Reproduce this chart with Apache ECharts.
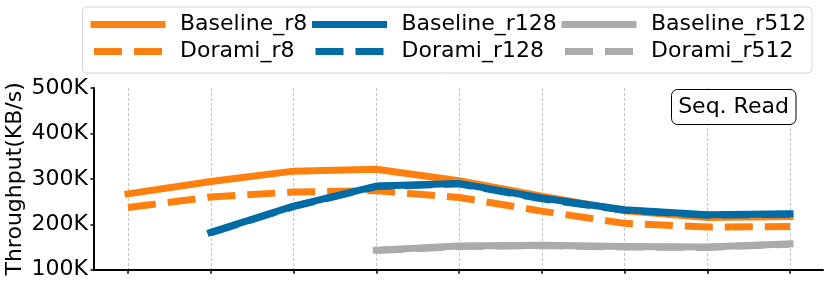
<!DOCTYPE html>
<html>
<head>
<meta charset="utf-8">
<script src="https://cdn.jsdelivr.net/npm/echarts@6/dist/echarts.min.js"></script>
<style>
html,body{margin:0;padding:0;background:#fff;}
#chart{width:830px;height:290px;}
</style>
</head>
<body>
<div id="chart"></div>
<script>
// ---- data (throughput in K KB/s) ----
var categories = ['1', '2', '3', '4', '5', '6', '7', '8', '9'];
var baselineR8 = [267, 294, 317, 321, 296, 262, 230, 215, 217];
var doramiR8 = [237, 260, 271, 274, 259, 229, 202, 194, 195];
var baselineR128 = [null, 182, 240, 284, 290, 258, 232, 221, 223];
var doramiR128 = [null, 181, 239, 283, 289, 256, 231, 220, 222];
var baselineR512 = [null, null, null, 143, 152, 154, 151, 150, 157];
var doramiR512 = [null, null, null, 142, 151, 153, 150, 149, 156];
var yTicks = [100, 200, 300, 400, 500];
var seriesNames = ['Baseline_r8', 'Dorami_r8', 'Baseline_r128', 'Dorami_r128', 'Baseline_r512', 'Dorami_r512'];
var panelTitle = 'Seq. Read';
var yAxisTitle = 'Throughput(KB/s)';

var ORANGE = '#FF800E', BLUE = '#006BA4', GRAY = '#ABABAB';
var FONT = 'DejaVu Sans';
var LW = 7;
var DASH = [28, 12];

function styleOf(color, dashed) {
  return {color: color, width: LW, type: dashed ? DASH : 'solid',
          cap: dashed ? 'butt' : 'square', join: 'round', opacity: 1};
}

function mkSeries(name, data, color, dashed) {
  return {
    name: name, type: 'line', data: data,
    xAxisIndex: 1, yAxisIndex: 1,
    symbol: 'none', showSymbol: false, clip: false, animation: false,
    connectNulls: false,
    lineStyle: styleOf(color, dashed),
    itemStyle: {color: color}
  };
}

function legendItem(name, color, dashed) {
  return {name: name, lineStyle: styleOf(color, dashed), itemStyle: {opacity: 0}};
}

var chart = echarts.init(document.getElementById('chart'), null, {renderer: 'canvas'});

function legendCol(items, left) {
  return {
    orient: 'vertical', left: left, top: 13.5, padding: 0,
    itemWidth: 68, itemHeight: 22, itemGap: 5,
    data: items,
    selectedMode: false,
    itemStyle: {opacity: 0},
    lineStyle: {width: LW},
    textStyle: {fontFamily: FONT, fontSize: 22, color: '#000', lineHeight: 22, padding: [0, 0, 0, 13]}
  };
}

var option = {
  animation: false,
  backgroundColor: '#fff',
  textStyle: {fontFamily: FONT},
  grid: [
    {left: 94, right: 7, top: 88, bottom: 20.3, containLabel: false, outerBoundsMode: 'none'},
    {left: 128, right: 40, top: 88, bottom: 20.3, containLabel: false, outerBoundsMode: 'none'}
  ],
  legend: [
    legendCol([legendItem(seriesNames[0], ORANGE, false), legendItem(seriesNames[1], ORANGE, true)], 90.5),
    legendCol([legendItem(seriesNames[2], BLUE, false), legendItem(seriesNames[3], BLUE, true)], 312),
    legendCol([legendItem(seriesNames[4], GRAY, false), legendItem(seriesNames[5], GRAY, true)], 561.5)
  ],
  xAxis: [
    {type: 'value', gridIndex: 0, min: 0, max: 1,
     axisLine: {show: true, onZero: false, lineStyle: {color: '#000', width: 2}},
     axisTick: {show: false}, axisLabel: {show: false}, splitLine: {show: false}},
    {type: 'category', gridIndex: 1, data: categories, boundaryGap: false,
     axisLine: {show: false},
     axisTick: {show: true, length: 4, inside: false, lineStyle: {color: '#000', width: 1.5}},
     axisLabel: {show: false},
     splitLine: {show: true, lineStyle: {color: '#c4c4c4', width: 1, type: [3, 2]}}}
  ],
  yAxis: [
    {type: 'value', gridIndex: 0, min: yTicks[0], max: yTicks[yTicks.length - 1], interval: 100,
     name: yAxisTitle, nameLocation: 'middle', nameGap: 68, nameMoveOverlap: false,
     nameTextStyle: {fontFamily: FONT, fontSize: 22, color: '#000'},
     axisLine: {show: true, onZero: false, lineStyle: {color: '#000', width: 2}},
     axisTick: {show: true, length: 3.5, lineStyle: {color: '#000', width: 1.5}},
     axisLabel: {show: true, margin: 6, fontFamily: FONT, fontSize: 22, color: '#000',
                 formatter: function (v) { return v + 'K'; }},
     splitLine: {show: false}},
    {type: 'value', gridIndex: 1, min: yTicks[0], max: yTicks[yTicks.length - 1], interval: 100,
     show: false, splitLine: {show: false}}
  ],
  series: [
    mkSeries(seriesNames[0], baselineR8, ORANGE, false),
    mkSeries(seriesNames[1], doramiR8, ORANGE, true),
    mkSeries(seriesNames[2], baselineR128, BLUE, false),
    mkSeries(seriesNames[3], doramiR128, BLUE, true),
    mkSeries(seriesNames[4], baselineR512, GRAY, false),
    mkSeries(seriesNames[5], doramiR512, GRAY, true)
  ],
  graphic: [
    {type: 'rect', z: -1, silent: true,
     shape: {x: 82.5, y: 7, width: 729.5, height: 66, r: 4},
     style: {fill: 'rgba(255,255,255,0.8)', stroke: '#d6d6d6', lineWidth: 1}},
    {type: 'rect', z: 10, silent: true,
     shape: {x: 671.5, y: 89.5, width: 124.5, height: 35, r: 6},
     style: {fill: '#fff', stroke: '#000', lineWidth: 1}},
    {type: 'text', z: 11, silent: true, x: 733.5, y: 107,
     style: {text: panelTitle, fontFamily: FONT, fontSize: 22, fill: '#000',
             textAlign: 'center', textVerticalAlign: 'middle'}}
  ]
};
chart.setOption(option);
</script>
</body>
</html>
